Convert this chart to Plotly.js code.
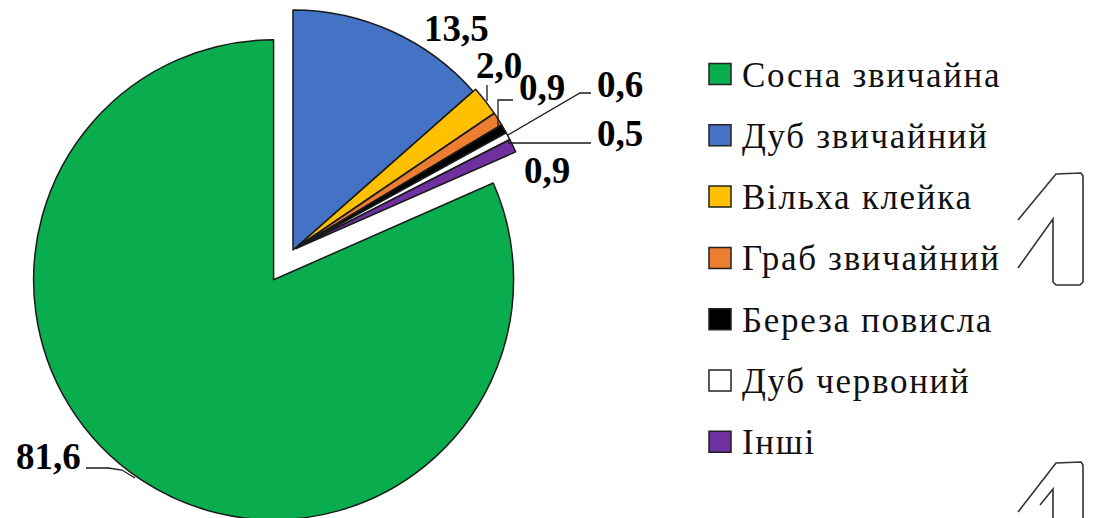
<!DOCTYPE html>
<html>
<head>
<meta charset="utf-8">
<script src="https://cdn.plot.ly/plotly-3.0.1.min.js"></script>
<style>
  html, body { margin: 0; padding: 0; background: #ffffff; overflow: hidden; width: 1094px; height: 518px; }
  #chart { position: absolute; left: 0; top: -30px; width: 1094px; height: 560px; }
</style>
</head>
<body>
<div id="chart"></div>
<script>
// ---- data ----
const species = ["Сосна звичайна", "Дуб звичайний", "Вільха клейка", "Граб звичайний", "Береза повисла", "Дуб червоний", "Інші"];
const shares = [81.6, 13.5, 2.0, 0.9, 0.6, 0.5, 0.9];
const sliceColors = ["#0aad4e", "#4472c4", "#ffc000", "#ed7d31", "#000000", "#ffffff", "#7030a0"];

// ---- layout helpers (window pixels -> paper) ----
const W = 1094, H = 560, OFF = 30;
const px = x => x / W;
const py = y => 1 - (y + OFF) / H;
const fmt = v => v.toFixed(1).replace('.', ',');
const SERIF = 'Liberation Serif';

const total = shares.reduce((a, b) => a + b, 0);
const rotation = 360 * (1 - shares[0] / total);

// pie geometry
const cx = 293, cy = 250, R = 275.5;

const trace = {
  type: 'pie',
  labels: species,
  values: shares,
  sort: false,
  direction: 'clockwise',
  rotation: rotation,
  pull: [0.148, 0, 0.014, 0.014, 0.014, 0.014, 0.014],
  marker: { colors: sliceColors, line: { color: '#1a1a1a', width: 1.5 } },
  textinfo: 'none',
  hoverinfo: 'label+value',
  showlegend: false,
  domain: { x: [px(cx - R), px(cx + R)], y: [py(cy + R), py(cy - R)] }
};

// value label positions (window px)
const labelPos = [[48, 456], [456, 29], [499, 65], [542, 87], [620, 85], [620, 133], [547, 170]];

const annotations = [];
shares.forEach((v, i) => {
  annotations.push({
    xref: 'paper', yref: 'paper', x: px(labelPos[i][0]), y: py(labelPos[i][1]),
    xanchor: 'center', yanchor: 'middle', showarrow: false,
    text: '<b>' + fmt(v) + '</b>',
    font: { family: SERIF, size: 37, color: '#000' }
  });
});

// manual legend
const legX = 740, legY0 = 74, legStep = 61.3;
const shapes = [];
species.forEach((s, i) => {
  const y = legY0 + i * legStep;
  annotations.push({
    xref: 'paper', yref: 'paper', x: px(legX), y: py(y + 1),
    xanchor: 'left', yanchor: 'middle', showarrow: false,
    text: '<span style="letter-spacing:1.7px">' + s + '</span>',
    font: { family: SERIF, size: 35, color: '#111' }
  });
  shapes.push({
    type: 'rect', xref: 'paper', yref: 'paper',
    x0: px(709), x1: px(731), y0: py(y - 10.5), y1: py(y + 10.5),
    fillcolor: sliceColors[i], line: { color: '#222', width: 1.5 }
  });
});

function pathPx(pts) {
  return pts.map((p, i) => (i === 0 ? 'M' : 'L') + px(p[0]) + ',' + py(p[1])).join(' ');
}
const leaderStyle = { color: '#1a1a1a', width: 1.3 };
const leaders = [
  [[86, 468], [108, 468], [122, 470], [135, 478]],
  [[487, 85], [487, 101]],
  [[513, 100], [498, 100], [498, 128]],
  [[591, 93], [580, 93], [508, 135]],
  [[591, 143], [508, 143]]
];
leaders.forEach(p => shapes.push({ type: 'path', xref: 'paper', yref: 'paper', path: pathPx(p), line: leaderStyle }));

// outline glyph artifacts at right edge
const glyphStyle = { color: '#333', width: 1.6 };
[
  [[1018, 220], [1056, 174], [1081, 173], [1083, 176], [1083, 282], [1080, 285], [1056, 285], [1053, 282], [1053, 219], [1018, 268]],
  [[1018, 512], [1056, 463], [1081, 462], [1083, 465], [1083, 525]],
  [[1040, 505], [1053, 489], [1053, 525]]
].forEach(p => shapes.push({ type: 'path', xref: 'paper', yref: 'paper', path: pathPx(p), line: glyphStyle }));

const layout = {
  width: W, height: H,
  margin: { l: 0, r: 0, t: 0, b: 0 },
  paper_bgcolor: '#ffffff',
  plot_bgcolor: '#ffffff',
  font: { family: SERIF, color: '#000' },
  showlegend: false,
  annotations: annotations,
  shapes: shapes
};

Plotly.newPlot('chart', [trace], layout, { displayModeBar: false, staticPlot: true });
</script>
</body>
</html>
